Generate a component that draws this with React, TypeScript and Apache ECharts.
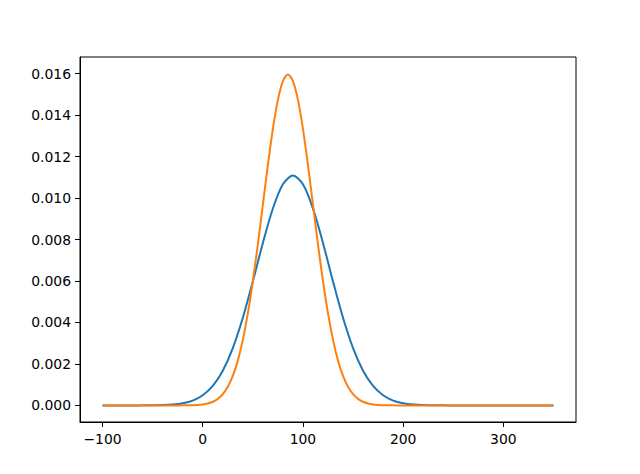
import React, { useEffect, useRef } from "react";
import * as echarts from "echarts";

// Blue curve: x values and densities
const blueX = [
  -100, -90, -80, -70, -60, -50, -40, -30, -20, -10, 0, 10, 20, 30, 40, 50, 60, 70, 80, 90,
  100, 110, 120, 130, 140, 150, 160, 170, 180, 190, 200, 210, 220, 230, 240, 250, 260, 270,
  280, 290, 300, 310, 320, 330, 340, 350,
];
const blueY = [
  0.0, 0.00000004, 0.00000016, 0.00000057, 0.0000019, 0.0000058, 0.0000163, 0.0000428,
  0.000104, 0.000234, 0.000487, 0.000939, 0.001674, 0.002764, 0.004225, 0.005978, 0.007832,
  0.009497, 0.010663, 0.011082, 0.010663, 0.009497, 0.007832, 0.005978, 0.004225, 0.002764,
  0.001674, 0.000939, 0.000487, 0.000234, 0.000104, 0.0000428, 0.0000163, 0.0000058,
  0.0000019, 0.00000057, 0.00000016, 0.00000004, 0.0, 0.0, 0.0, 0.0, 0.0, 0.0, 0.0, 0.0,
];

// Orange curve
const orangeX = [
  -100, -90, -80, -70, -60, -50, -40, -30, -20, -10, 0, 5, 10, 15, 20, 25, 30, 35, 40, 45, 50,
  55, 60, 65, 70, 75, 80, 85, 90, 95, 100, 105, 110, 115, 120, 125, 130, 135, 140, 145, 150,
  155, 160, 165, 170, 180, 190, 200, 210, 220, 240, 260, 280, 300, 320, 340, 350,
];
const orangeY = [
  0.0, 0.0, 0.0, 0.0, 0.0, 0.0, 0.0, 0.0000004, 0.00000235, 0.0000117, 0.0000493, 0.0000954,
  0.0001773, 0.0003166, 0.0005434, 0.0008957, 0.001419, 0.00216, 0.003158, 0.004436,
  0.005989, 0.007768, 0.009679, 0.011587, 0.01333, 0.014731, 0.015642, 0.015958, 0.015642,
  0.014731, 0.01333, 0.011587, 0.009679, 0.007768, 0.005989, 0.004436, 0.003158, 0.00216,
  0.001419, 0.0008957, 0.0005434, 0.0003166, 0.0001773, 0.0000954, 0.0000493, 0.0000117,
  0.00000235, 0.0000004, 0.0, 0.0, 0.0, 0.0, 0.0, 0.0, 0.0, 0.0, 0.0,
];

const xTicks = [-100, 0, 100, 200, 300];
const yTicks = [0, 0.002, 0.004, 0.006, 0.008, 0.01, 0.012, 0.014, 0.016];

const FONT = "DejaVu Sans";

export default function App() {
  const ref = useRef<HTMLDivElement>(null);
  useEffect(() => {
    if (!ref.current) return;
    const chart = echarts.init(ref.current, null, { renderer: "svg" });
    const blueData = blueX.map((x, i) => [x, blueY[i]]);
    const orangeData = orangeX.map((x, i) => [x, orangeY[i]]);
    chart.setOption({
      animation: false,
      backgroundColor: "#ffffff",
      grid: {
        left: 80,
        right: 64,
        top: 57,
        bottom: 52,
        show: true,
        borderColor: "#000000",
        borderWidth: 1,
        backgroundColor: "transparent",
      },
      xAxis: {
        type: "value",
        min: -122.5,
        max: 372.5,
        axisLine: { show: true, onZero: false, lineStyle: { color: "#000", width: 1 } },
        axisTick: {
          show: true,
          inside: false,
          length: 5,
          customValues: xTicks,
          lineStyle: { color: "#000", width: 1 },
        },
        axisLabel: {
          customValues: xTicks,
          margin: 10,
          color: "#000",
          fontFamily: FONT,
          fontSize: 13.9,
          formatter: (v: number) => (v < 0 ? "\u2212" + Math.abs(v) : String(v)),
        },
        splitLine: { show: false },
      },
      yAxis: {
        type: "value",
        min: -0.0008,
        max: 0.0168,
        axisLine: { show: true, onZero: false, lineStyle: { color: "#000", width: 1 } },
        axisTick: {
          show: true,
          inside: false,
          length: 5,
          customValues: yTicks,
          lineStyle: { color: "#000", width: 1 },
        },
        axisLabel: {
          customValues: yTicks,
          margin: 9,
          color: "#000",
          fontFamily: FONT,
          fontSize: 13.9,
          formatter: (v: number) => v.toFixed(3),
        },
        splitLine: { show: false },
      },
      series: [
        {
          type: "line",
          data: blueData,
          showSymbol: false,
          smooth: 0.3,
          lineStyle: { color: "#1f77b4", width: 2 },
          itemStyle: { color: "#1f77b4" },
          z: 2,
        },
        {
          type: "line",
          data: orangeData,
          showSymbol: false,
          smooth: 0.3,
          lineStyle: { color: "#ff7f0e", width: 2 },
          itemStyle: { color: "#ff7f0e" },
          z: 3,
        },
      ],
    });
    return () => chart.dispose();
  }, []);
  return (
    <div
      ref={ref}
      style={{ position: "absolute", left: 0, top: 0, width: 640, height: 474 }}
    />
  );
}
